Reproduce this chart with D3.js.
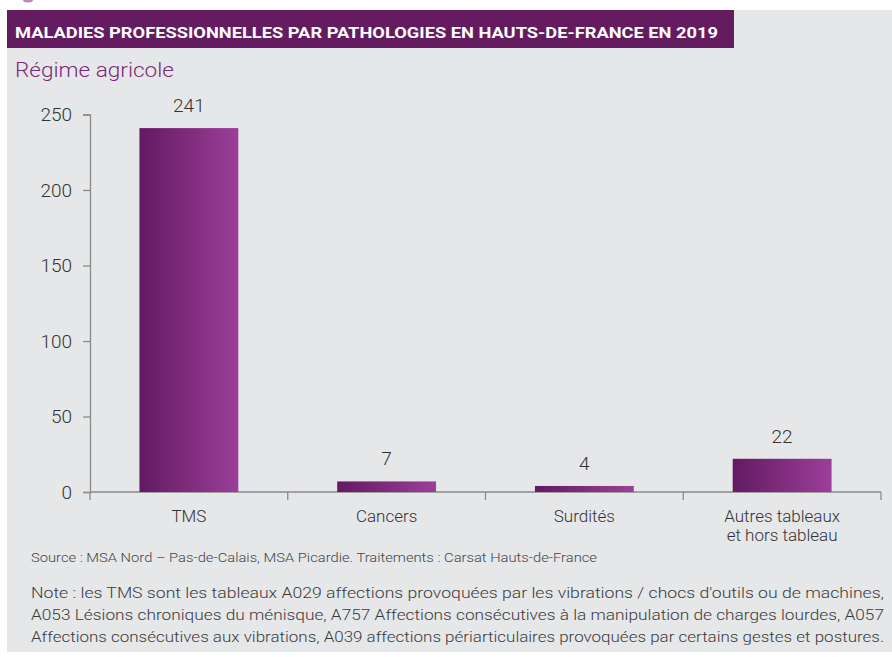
<!DOCTYPE html>
<html lang="fr">
<head>
<meta charset="utf-8">
<script src="https://cdn.jsdelivr.net/npm/d3@7"></script>
<style>
  html, body { margin: 0; padding: 0; background: #ffffff; }
  svg { display: block; }
  text { font-family: "Roboto", "Liberation Sans", sans-serif; }
</style>
</head>
<body>
<svg id="chart" width="892" height="657"></svg>
<script>
// Données : maladies professionnelles, régime agricole, Hauts-de-France 2019
const categories = [["TMS"], ["Cancers"], ["Surdités"], ["Autres tableaux", "et hors tableau"]];
const values = [241, 7, 4, 22];
const yTicks = [0, 50, 100, 150, 200, 250];

const titleText = "MALADIES PROFESSIONNELLES PAR PATHOLOGIES EN HAUTS-DE-FRANCE EN 2019";
const subtitleText = "Régime agricole";
const sourceText = "Source : MSA Nord – Pas-de-Calais, MSA Picardie. Traitements : Carsat Hauts-de-France";
const noteLines = [
  "Note : les TMS sont les tableaux A029 affections provoquées par les vibrations / chocs d'outils ou de machines,",
  "A053 Lésions chroniques du ménisque, A757 Affections consécutives à la manipulation de charges lourdes, A057",
  "Affections consécutives aux vibrations, A039 affections périarticulaires provoquées par certains gestes et postures."
];

const svg = d3.select("#chart");

// Fond du panneau
svg.append("rect").attr("x", 7).attr("y", 10).attr("width", 885).attr("height", 642).attr("fill", "#e6e7e9");
// Petit repère violet en haut
svg.append("ellipse").attr("cx", 28).attr("cy", 0).attr("rx", 5).attr("ry", 2.5).attr("fill", "#b78ab5");

// Bandeau de titre
svg.append("rect").attr("x", 7).attr("y", 10).attr("width", 727).attr("height", 38).attr("fill", "#651b60");
svg.append("text").attr("x", 15).attr("y", 37.5)
  .attr("fill", "#ffffff").attr("font-size", 15).attr("font-weight", 700)
  .attr("textLength", 703).attr("lengthAdjust", "spacingAndGlyphs")
  .text(titleText);

svg.append("text").attr("x", 15).attr("y", 77)
  .attr("fill", "#7b2a78").attr("font-size", 20).attr("font-weight", 300)
  .attr("textLength", 159).attr("lengthAdjust", "spacingAndGlyphs")
  .text(subtitleText);

// Échelles
const x = d3.scaleBand().domain(categories.map(c => c.join(" "))).range([90, 881]).paddingInner(0.5).paddingOuter(0.25);
const y = d3.scaleLinear().domain([0, 250]).range([492, 114.5]);

// Dégradé des barres
const defs = svg.append("defs");
const grad = defs.append("linearGradient").attr("id", "barGrad").attr("x1", "0%").attr("x2", "100%").attr("y1", "0%").attr("y2", "0%");
grad.append("stop").attr("offset", "0%").attr("stop-color", "#631a62");
grad.append("stop").attr("offset", "100%").attr("stop-color", "#9c3e9a");

// Axe Y
const yAxis = svg.append("g").attr("transform", "translate(90,0)")
  .call(d3.axisLeft(y).tickValues(yTicks).tickSize(7).tickPadding(11));
yAxis.select(".domain").attr("stroke", "#8a8a8a").attr("stroke-width", 1.3);
yAxis.selectAll(".tick line").attr("stroke", "#8a8a8a").attr("stroke-width", 1.3);
yAxis.selectAll(".tick text").attr("font-size", 19).attr("fill", "#333").attr("font-family", "Roboto, sans-serif").attr("font-weight", 300);

// Axe X : graduations aux limites des catégories
const xAxisG = svg.append("g");
xAxisG.append("line").attr("x1", 90).attr("x2", 881).attr("y1", y(0)).attr("y2", y(0))
  .attr("stroke", "#8a8a8a").attr("stroke-width", 1.3);
const step = x.step();
const bounds = d3.range(categories.length + 1).map(i => x.range()[0] + i * step);
xAxisG.selectAll("line.tk").data(bounds).join("line").attr("class", "tk")
  .attr("x1", d => d).attr("x2", d => d).attr("y1", y(0)).attr("y2", y(0) + 8)
  .attr("stroke", "#8a8a8a").attr("stroke-width", 1.3);

// Étiquettes de catégories
const catLabels = svg.append("g").selectAll("text").data(categories).join("text")
  .attr("x", d => x(d.join(" ")) + x.bandwidth() / 2)
  .attr("y", 522)
  .attr("text-anchor", "middle").attr("font-size", 17).attr("fill", "#333").attr("font-weight", 300);
catLabels.selectAll("tspan").data(d => d).join("tspan")
  .attr("x", function () { return d3.select(this.parentNode).attr("x"); })
  .attr("dy", (d, i) => i === 0 ? 0 : 19)
  .text(d => d);

// Barres
const data = categories.map((c, i) => ({ key: c.join(" "), value: values[i] }));
svg.append("g").selectAll("rect").data(data).join("rect")
  .attr("x", d => x(d.key))
  .attr("width", x.bandwidth())
  .attr("y", d => y(d.value))
  .attr("height", d => y(0) - y(d.value))
  .attr("fill", "url(#barGrad)");

// Valeurs
svg.append("g").selectAll("text").data(data).join("text")
  .attr("x", d => x(d.key) + x.bandwidth() / 2)
  .attr("y", d => y(d.value) - 16)
  .attr("text-anchor", "middle").attr("font-size", 19).attr("fill", "#333").attr("font-weight", 300)
  .text(d => d.value);

// Source et note
svg.append("text").attr("x", 31).attr("y", 562)
  .attr("font-size", 12.5).attr("fill", "#444").attr("font-weight", 300)
  .attr("textLength", 566).attr("lengthAdjust", "spacingAndGlyphs")
  .text(sourceText);

svg.append("g").selectAll("text").data(noteLines).join("text")
  .attr("x", 31).attr("y", (d, i) => 598 + i * 22)
  .attr("font-size", 15.5).attr("fill", "#3a3a3a").attr("font-weight", 300)
  .attr("textLength", 853).attr("lengthAdjust", "spacingAndGlyphs")
  .text(d => d);
</script>
</body>
</html>
